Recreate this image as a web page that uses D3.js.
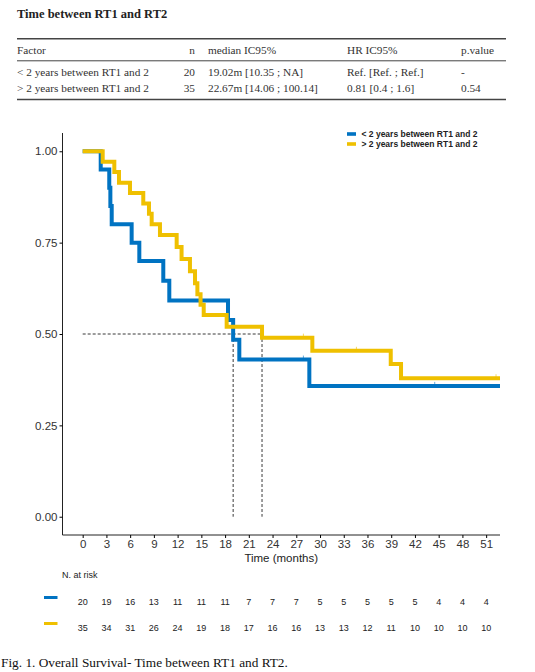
<!DOCTYPE html>
<html>
<head>
<meta charset="utf-8">
<script src="https://cdn.jsdelivr.net/npm/d3@7"></script>
<style>
  body { margin: 0; background: #fff; }
  svg { display: block; }
</style>
</head>
<body>
<div id="display"></div>
<script>
// table above the plot
const tableTitle = "Time between RT1 and RT2"
const tableHeader = ["Factor", "n", "median IC95%", "HR IC95%", "p.value"]
const tableRows = [
  ["< 2 years between RT1 and 2", "20", "19.02m [10.35 ; NA]", "Ref. [Ref. ; Ref.]", "-"],
  ["> 2 years between RT1 and 2", "35", "22.67m [14.06 ; 100.14]", "0.81 [0.4 ; 1.6]", "0.54"]
]

// survival curves: [time in months, survival]
const groupNames = ["< 2 years between RT1 and 2", "> 2 years between RT1 and 2"]
const groupColors = ["#0073C2", "#EFC000"]
const lowCurve = [
  [0, 1], [2.28, 0.95], [3.36, 0.90], [3.5, 0.85], [3.67, 0.80], [6.19, 0.75], [7.16, 0.70],
  [10.19, 0.646], [10.95, 0.592], [18.37, 0.538], [19.02, 0.484], [19.8, 0.43], [28.65, 0.358], [52.75, 0.358]
]
const highCurve = [
  [0, 1], [2.53, 0.971], [4.0, 0.943], [4.59, 0.914], [5.98, 0.886], [7.66, 0.857], [8.38, 0.829],
  [8.72, 0.80], [9.77, 0.771], [11.88, 0.738], [12.5, 0.705], [13.56, 0.672], [14.2, 0.639],
  [14.5, 0.609], [14.9, 0.58], [15.3, 0.552], [18.2, 0.52], [22.67, 0.49], [29.03, 0.454],
  [38.94, 0.418], [40.24, 0.379], [52.75, 0.379]
]
const lowCensored = [[27.9, 0.43], [44.5, 0.358]]
const highCensored = [[27.9, 0.49], [34.6, 0.454], [52.25, 0.379]]
const medians = [19.02, 22.67]

// axes
const xTicks = [0, 3, 6, 9, 12, 15, 18, 21, 24, 27, 30, 33, 36, 39, 42, 45, 48, 51]
const yTicks = [0, 0.25, 0.5, 0.75, 1]

// number at risk
const riskLow = [20, 19, 16, 13, 11, 11, 11, 7, 7, 7, 5, 5, 5, 5, 5, 4, 4, 4]
const riskHigh = [35, 34, 31, 26, 24, 19, 18, 17, 16, 16, 13, 13, 12, 11, 10, 10, 10, 10]

const caption = "Fig. 1. Overall Survival- Time between RT1 and RT2."

const width = 535
const height = 672
const serif = "'Liberation Serif', 'Times New Roman', serif"
const sans = "'Liberation Sans', Arial, sans-serif"

const svg = d3.select("#display")
  .append("svg")
  .attr("width", width)
  .attr("height", height)

// ---- summary table ----
svg.append("text")
  .attr("x", 17).attr("y", 18)
  .style("font-family", serif).style("font-weight", "bold").style("font-size", "12.5px")
  .attr("fill", "#222")
  .text(tableTitle)

const colX = [17, 195, 208, 347, 461]
const colAnchor = ["start", "end", "start", "start", "start"]
const tableLeft = 17
const tableRight = 506

const rules = [[38.8, 1.6], [60.8, 1], [99.5, 1.6]]
svg.selectAll("line.rule")
  .data(rules)
  .enter()
  .append("line")
    .classed("rule", true)
    .attr("x1", tableLeft).attr("x2", tableRight)
    .attr("y1", d => d[0]).attr("y2", d => d[0])
    .attr("stroke", "#444").attr("stroke-width", d => d[1])

const tableLines = [tableHeader, ...tableRows]
const lineY = [53.5, 75.5, 92]
tableLines.forEach((row, i) => {
  svg.selectAll(null)
    .data(row)
    .enter()
    .append("text")
      .attr("x", (d, j) => colX[j])
      .attr("y", lineY[i])
      .attr("text-anchor", (d, j) => colAnchor[j])
      .style("font-family", serif).style("font-size", "11.3px")
      .attr("fill", "#333")
      .text(d => d)
})

// ---- survival plot ----
const panel = { left: 62.5, right: 500, top: 133, bottom: 535 }

const x = d3.scaleLinear().domain([-2.55, 52.75]).range([panel.left, panel.right])
const y = d3.scaleLinear().domain([-0.05, 1.05]).range([panel.bottom, panel.top])

const yAxis = svg.append("g")
  .attr("transform", `translate(${panel.left},0)`)
  .call(d3.axisLeft(y).tickValues(yTicks).tickFormat(d3.format(".2f")).tickSize(3).tickPadding(2))
yAxis.select(".domain").attr("d", `M0,${panel.top}V${panel.bottom}`).attr("stroke", "#222")
yAxis.selectAll("text").style("font-family", sans).style("font-size", "11.5px").attr("fill", "#333")

const xAxis = svg.append("g")
  .attr("transform", `translate(0,${panel.bottom})`)
  .call(d3.axisBottom(x).tickValues(xTicks).tickSize(3).tickPadding(2))
xAxis.select(".domain").attr("d", `M${panel.left},0H${panel.right}`).attr("stroke", "#222")
xAxis.selectAll("text").style("font-family", sans).style("font-size", "11.5px").attr("fill", "#333")

svg.append("text")
  .attr("x", (panel.left + panel.right) / 2).attr("y", 562)
  .attr("text-anchor", "middle")
  .style("font-family", sans).style("font-size", "11.5px")
  .attr("fill", "#222")
  .text("Time (months)")

// median guide lines
const dash = "3,2"
svg.append("line")
  .attr("x1", x(0)).attr("x2", x(d3.max(medians)))
  .attr("y1", y(0.5)).attr("y2", y(0.5))
  .attr("stroke", "#222").attr("stroke-width", 0.9).attr("stroke-dasharray", dash)
svg.selectAll("line.median")
  .data(medians)
  .enter()
  .append("line")
    .classed("median", true)
    .attr("x1", d => x(d)).attr("x2", d => x(d))
    .attr("y1", y(0.5)).attr("y2", y(0))
    .attr("stroke", "#222").attr("stroke-width", 0.9).attr("stroke-dasharray", dash)

const stepLine = d3.line()
  .x(d => x(d[0]))
  .y(d => y(d[1]))
  .curve(d3.curveStepAfter)

const curves = [lowCurve, highCurve]
const censors = [lowCensored, highCensored]

curves.forEach((curve, i) => {
  svg.append("path")
    .datum(curve)
    .attr("d", stepLine)
    .attr("fill", "none")
    .attr("stroke", groupColors[i])
    .attr("stroke-width", 4)

  svg.selectAll(null)
    .data(censors[i])
    .enter()
    .append("line")
      .attr("x1", d => x(d[0])).attr("x2", d => x(d[0]))
      .attr("y1", d => y(d[1]) - 4).attr("y2", d => y(d[1]))
      .attr("stroke", groupColors[i])
      .attr("stroke-opacity", 0.6)
      .attr("stroke-width", 1)
})

// legend
const legend = svg.append("g")
groupNames.forEach((name, i) => {
  const ly = 134 + i * 10
  legend.append("rect")
    .attr("x", 347).attr("y", ly - 1.8)
    .attr("width", 9).attr("height", 3.6)
    .attr("fill", groupColors[i])
  legend.append("text")
    .attr("x", 361.5).attr("y", ly + 3)
    .style("font-family", sans).style("font-size", "8.5px").style("font-weight", "bold")
    .attr("fill", "#222")
    .text(name)
})

// ---- number at risk ----
svg.append("text")
  .attr("x", 62).attr("y", 578)
  .style("font-family", sans).style("font-size", "9px")
  .attr("fill", "#222")
  .text("N. at risk")

const riskRows = [riskLow, riskHigh]
const riskY = [604.5, 630.5]
riskRows.forEach((row, i) => {
  svg.append("line")
    .attr("x1", 44).attr("x2", 57.5)
    .attr("y1", riskY[i] - 7).attr("y2", riskY[i] - 7)
    .attr("stroke", groupColors[i]).attr("stroke-width", 3)

  svg.selectAll(null)
    .data(row)
    .enter()
    .append("text")
      .attr("x", (d, j) => x(xTicks[j]))
      .attr("y", riskY[i])
      .attr("text-anchor", "middle")
      .style("font-family", sans).style("font-size", "9px")
      .attr("fill", "#222")
      .text(d => d)
})

svg.append("text")
  .attr("x", 1).attr("y", 667)
  .style("font-family", serif).style("font-size", "13.3px")
  .attr("fill", "#111")
  .text(caption)
</script>
</body>
</html>
